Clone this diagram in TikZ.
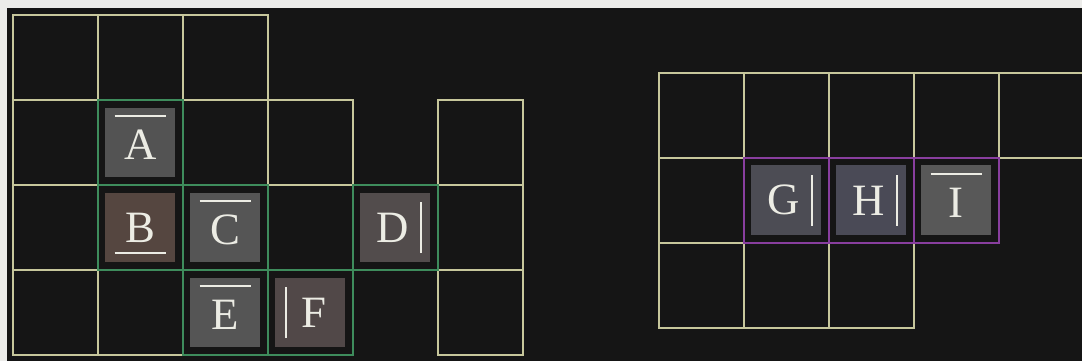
\documentclass[tikz,border=0pt]{standalone}
\usepackage{fontspec}
\setmainfont{Liberation Serif}
\usepackage{xcolor}
\usepackage{tikz}
\usetikzlibrary{calc,positioning}
\definecolor{fondo}{RGB}{21,21,21}
\definecolor{borde}{RGB}{236,236,234}
\definecolor{linea}{RGB}{198,198,155}
\definecolor{verde}{RGB}{62,140,92}
\definecolor{morado}{RGB}{136,62,158}
\definecolor{letra}{RGB}{236,236,228}
\tikzset{
  rejilla/.style={draw=linea,line width=0.55pt},
  grupoA/.style={draw=verde,line width=0.7pt},
  grupoB/.style={draw=morado,line width=0.8pt},
  ficha/.style={rectangle,minimum size=0.82cm,inner sep=0pt,text=letra,
    font=\fontsize{15}{15}\selectfont},
  conbarra/.style={text height=0.41cm,text depth=0pt},
  barra/.style={letra,line width=0.7pt}
}
\newcommand{\barN}[1]{\draw[barra] ([shift={(-0.3,0.31)}]#1.center) -- ([shift={(0.3,0.31)}]#1.center);}
\newcommand{\barS}[1]{\draw[barra] ([shift={(-0.3,-0.3)}]#1.center) -- ([shift={(0.3,-0.3)}]#1.center);}
\newcommand{\barE}[1]{\draw[barra] ([shift={(0.3,-0.3)}]#1.center) -- ([shift={(0.3,0.3)}]#1.center);}
\newcommand{\barW}[1]{\draw[barra] ([shift={(-0.29,-0.3)}]#1.center) -- ([shift={(-0.29,0.3)}]#1.center);}
\newcommand{\izq}[1]{\hspace*{-0.07cm}#1}
\newcommand{\der}[1]{\hspace*{0.09cm}#1}
\begin{document}
\begin{tikzpicture}
\useasboundingbox (0,0) rectangle (12.73,4.247);
\clip (0,0) rectangle (12.73,4.247);
\fill[borde] (0,0) rectangle (12.73,4.247);
\fill[fondo] (0.082,0) rectangle (12.73,4.153);
% tablero izquierdo
\begin{scope}[shift={(0.15,4.07)}]
\foreach \c/\r in {0/0,1/0,2/0,0/1,1/1,2/1,3/1,5/1,0/2,1/2,2/2,3/2,4/2,5/2,0/3,1/3,2/3,3/3,5/3}{
  \draw[rejilla] (\c,-\r) rectangle ++(1,-1);}
\foreach \c/\r in {1/1,1/2,2/2,4/2,2/3,3/3}{
  \draw[grupoA] (\c,-\r) rectangle ++(1,-1);}
\node[ficha,conbarra,fill={rgb,255:red,83;green,83;blue,83}] (a) at (1.5,-1.5) {A};
\node[ficha,fill={rgb,255:red,85;green,70;blue,64}] (b) at (1.5,-2.5) {B};
\node[ficha,conbarra,fill={rgb,255:red,85;green,85;blue,85}] (c) at (2.5,-2.5) {C};
\node[ficha,fill={rgb,255:red,82;green,76;blue,76}] (d) at (4.5,-2.5) {\izq{D}};
\node[ficha,conbarra,fill={rgb,255:red,85;green,85;blue,85}] (e) at (2.5,-3.5) {E};
\node[ficha,fill={rgb,255:red,81;green,72;blue,72}] (f) at (3.5,-3.5) {\der{F}};
\barN{a} \barS{b} \barN{c} \barE{d} \barN{e} \barW{f}
\end{scope}
% tablero derecho
\begin{scope}[shift={(7.75,3.39)}]
\foreach \c/\r in {0/0,1/0,2/0,3/0,4/0,0/1,1/1,2/1,3/1,0/2,1/2,2/2}{
  \draw[rejilla] (\c,-\r) rectangle ++(1,-1);}
\foreach \c in {1,2,3}{
  \draw[grupoB] (\c,-1) rectangle ++(1,-1);}
\node[ficha,fill={rgb,255:red,76;green,76;blue,84}] (g) at (1.5,-1.5) {\izq{G}};
\node[ficha,fill={rgb,255:red,74;green,74;blue,86}] (h) at (2.5,-1.5) {\izq{H}};
\node[ficha,conbarra,fill={rgb,255:red,88;green,88;blue,88}] (i) at (3.5,-1.5) {I};
\barE{g} \barE{h} \barN{i}
\end{scope}
\end{tikzpicture}
\end{document}
